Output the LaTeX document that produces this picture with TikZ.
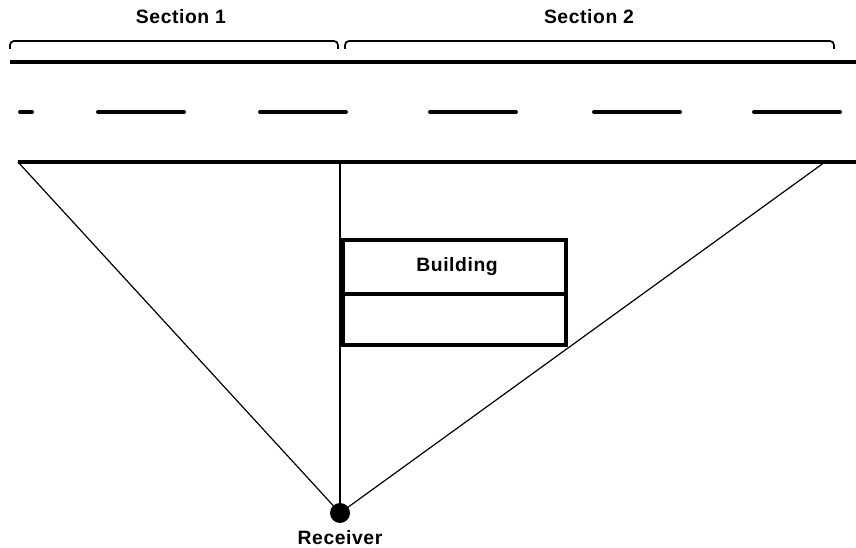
\documentclass[tikz,border=0pt]{standalone}
\usepackage{fontspec}
\setmainfont{Liberation Sans}
\usetikzlibrary{positioning}

\begin{document}
\begin{tikzpicture}[x=0.75pt, y=-0.75pt,
  road/.style = {line width=2.4pt},
  lane/.style = {line width=3pt, line cap=round},
  sight/.style = {line width=0.9pt},
  wall/.style = {line width=3pt},
  bracket/.style = {line width=1.3pt, rounded corners=3pt},
  lbl/.style = {font=\fontsize{14.5}{17}\selectfont\bfseries\addfontfeature{LetterSpace=3}}]

\useasboundingbox (0,0) rectangle (856,548);

% road
\coordinate (roadL) at (18,162);
\coordinate (roadM) at (340,162);
\coordinate (roadR) at (825,162);
\draw[road] (10,62) -- (856,62);
\draw[road] (roadL) -- (856,162);
\draw[lane] (20,112) -- (32,112);
\foreach \x in {98,260,430,594,754} \draw[lane] (\x,112) -- ++(86,0);

% sections
\node[lbl] (sec1) at (181,17) {Section 1};
\node[lbl] (sec2) at (589,17) {Section 2};
\draw[bracket] (10,49) -- (10,41) -- (338,41) -- (338,49);
\draw[bracket] (345,49) -- (345,41) -- (834,41) -- (834,49);

% building
\draw[wall] (343,240) rectangle (566,345);
\draw[wall] (343,294) -- (566,294);
\node[lbl] (bldg) at (457,267) {Building};

% receiver
\node[circle, fill, inner sep=0pt, minimum size=15pt] (rcv) at (340,513) {};
\node[lbl, below=2pt of rcv] (rcvlbl) {Receiver};
\draw[sight] (roadL) -- (rcv.center);
\draw[sight] (roadR) -- (rcv.center);
\draw[line width=1.5pt] (roadM) -- (rcv.center);
\end{tikzpicture}
\end{document}
